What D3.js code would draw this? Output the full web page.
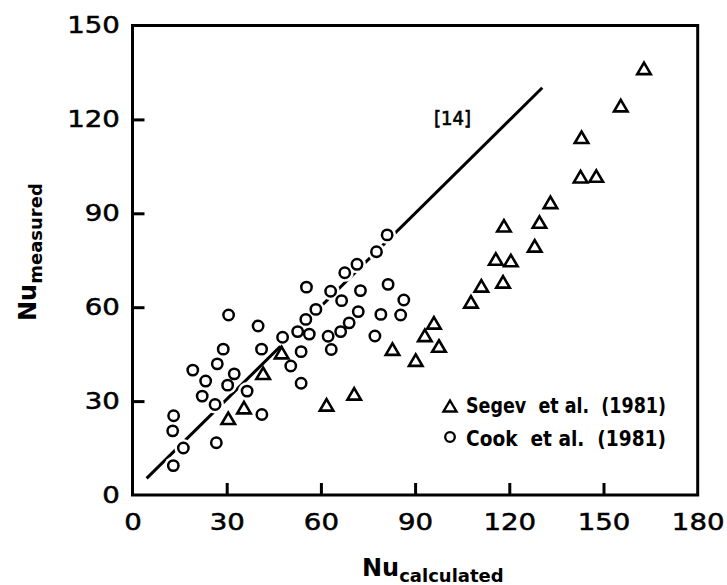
<!DOCTYPE html>
<html><head><meta charset="utf-8">
<script src="https://cdn.jsdelivr.net/npm/d3@7"></script>
<style>body{margin:0;background:#fff} svg{display:block}</style>
</head><body><svg id="c" width="727" height="585"></svg>
<script>
const xTicks = [0, 30, 60, 90, 120, 150, 180];
const yTicks = [0, 30, 60, 90, 120, 150];

const cookX = [55.4, 63.1, 58.4, 30.6, 55.2, 40.0, 52.6, 56.3, 47.8, 62.3, 63.3, 28.9, 41.1, 53.7, 27.0, 50.4, 19.2, 32.4, 23.3, 30.3, 53.7, 36.5, 22.2, 26.3, 41.2, 13.1, 12.8, 26.7, 16.2, 13.0, 81.1, 77.7, 71.5, 67.6, 81.4, 72.6, 66.6, 86.4, 71.9, 79.1, 85.4, 69.0, 66.3, 77.2];
const cookY = [66.4, 65.1, 59.3, 57.5, 56.1, 54.0, 52.2, 51.4, 50.4, 50.7, 46.5, 46.6, 46.6, 45.8, 41.9, 41.2, 39.9, 38.7, 36.4, 35.1, 35.7, 33.2, 31.6, 28.9, 25.7, 25.3, 20.5, 16.7, 15.0, 9.4, 83.1, 77.7, 73.7, 71.0, 67.3, 65.3, 62.1, 62.3, 58.6, 57.7, 57.5, 55.0, 52.2, 50.8];

const segevX = [47.5, 41.6, 35.5, 30.5, 61.8, 70.6, 82.8, 90.2, 93.1, 96.0, 97.6, 107.8, 111.1, 118.0, 115.7, 120.5, 128.1, 118.3, 129.6, 133.1, 142.7, 147.7, 143.0, 155.5, 162.9];
const segevY = [45.5, 38.9, 27.9, 24.5, 28.8, 32.3, 46.6, 43.1, 51.0, 55.0, 47.6, 61.7, 66.8, 68.1, 75.4, 74.9, 79.6, 86.0, 87.2, 93.5, 101.7, 101.9, 114.3, 124.4, 136.3];

const refLineX = [4.5, 130.5];
const refLineY = [5.3, 130.1];
const refLabel = "[14]";
const legendLabels = ["Segev  et al.  (1981)", "Cook  et al.  (1981)"];

const svg = d3.select("#c");
const x = d3.scaleLinear().domain([0, 180]).range([132.5, 697.7]);
const y = d3.scaleLinear().domain([0, 150]).range([495, 25.5]);
const FONT = "'DejaVu Sans', sans-serif";

// reference line
svg.append("path")
  .datum(refLineX.map((d, i) => [d, refLineY[i]]))
  .attr("d", d3.line().x(d => x(d[0])).y(d => y(d[1])))
  .attr("fill", "none").attr("stroke", "#000").attr("stroke-width", 3);

svg.append("text").attr("x", 434).attr("y", 125)
  .attr("font-family", FONT).attr("font-size", 20)
  .attr("stroke", "#000").attr("stroke-width", 0.7)
  .attr("textLength", 37).attr("lengthAdjust", "spacingAndGlyphs")
  .text(refLabel);

const cook = cookX.map((d, i) => [d, cookY[i]]);
const segev = segevX.map((d, i) => [d, segevY[i]]);

// halos that break the line under circles
svg.append("g").selectAll("circle").data(cook).join("circle")
  .attr("cx", d => x(d[0])).attr("cy", d => y(d[1])).attr("r", 9).attr("fill", "#fff");

svg.append("g").selectAll("circle").data(cook).join("circle")
  .attr("cx", d => x(d[0])).attr("cy", d => y(d[1])).attr("r", 5.2)
  .attr("fill", "#fff").attr("stroke", "#000").attr("stroke-width", 2.5);

const triPath = (w, h) => `M0,${-h/2}L${w/2},${h/2}L${-w/2},${h/2}Z`;
svg.append("g").selectAll("path").data(segev).join("path")
  .attr("transform", d => `translate(${x(d[0])},${y(d[1])})`)
  .attr("d", triPath(13.5, 11.5))
  .attr("fill", "#fff").attr("stroke", "#000").attr("stroke-width", 2.6).attr("stroke-linejoin", "miter");

// axes
const xAxis = svg.append("g").attr("transform", "translate(0,495)")
  .call(d3.axisBottom(x).tickValues(xTicks).tickSize(-12).tickPadding(18.5));
const yAxis = svg.append("g").attr("transform", "translate(132.5,0)")
  .call(d3.axisLeft(y).tickValues(yTicks).tickSize(-12).tickPadding(10.5));
[xAxis, yAxis].forEach(g => {
  g.select(".domain").remove();
  g.selectAll(".tick line").attr("stroke", "#000").attr("stroke-width", 3);
  g.selectAll(".tick text").attr("font-family", FONT).attr("font-size", 23)
    .attr("fill", "#000").attr("stroke", "#000").attr("stroke-width", 0.5)
    .attr("transform", "scale(1.2,1)");
});
xAxis.selectAll(".tick").filter(d => d === 0 || d === 180).select("line").remove();
yAxis.selectAll(".tick").filter(d => d === 0 || d === 150).select("line").remove();

// frame
svg.append("rect").attr("x", 132.5).attr("y", 25.5)
  .attr("width", 697.7 - 132.5).attr("height", 495 - 25.5)
  .attr("fill", "none").attr("stroke", "#000").attr("stroke-width", 3);

// titles
const xt = svg.append("text").attr("x", 362).attr("y", 576)
  .attr("font-family", FONT).attr("font-weight", "bold").attr("fill", "#000");
xt.append("tspan").attr("font-size", 24).text("Nu");
xt.append("tspan").attr("font-size", 18).attr("dy", 6).text("calculated");

const yt = svg.append("text").attr("transform", "translate(36,321) rotate(-90)")
  .attr("font-family", FONT).attr("font-weight", "bold").attr("fill", "#000");
yt.append("tspan").attr("font-size", 24).text("Nu");
yt.append("tspan").attr("font-size", 18).attr("dy", 6).text("measured");

// legend
const lg = svg.append("g");
lg.append("path").attr("transform", "translate(450,406)").attr("d", triPath(13, 11))
  .attr("fill", "#fff").attr("stroke", "#000").attr("stroke-width", 2.4);
lg.append("circle").attr("cx", 450).attr("cy", 437).attr("r", 4.8)
  .attr("fill", "#fff").attr("stroke", "#000").attr("stroke-width", 2.3);
lg.selectAll("text").data(legendLabels).join("text")
  .attr("x", 466).attr("y", (d, i) => i === 0 ? 413 : 445.5)
  .attr("font-family", FONT).attr("font-weight", "bold").attr("font-size", 21)
  .style("white-space", "pre")
  .attr("textLength", 200).attr("lengthAdjust", "spacingAndGlyphs")
  .text(d => d);
</script></body></html>
